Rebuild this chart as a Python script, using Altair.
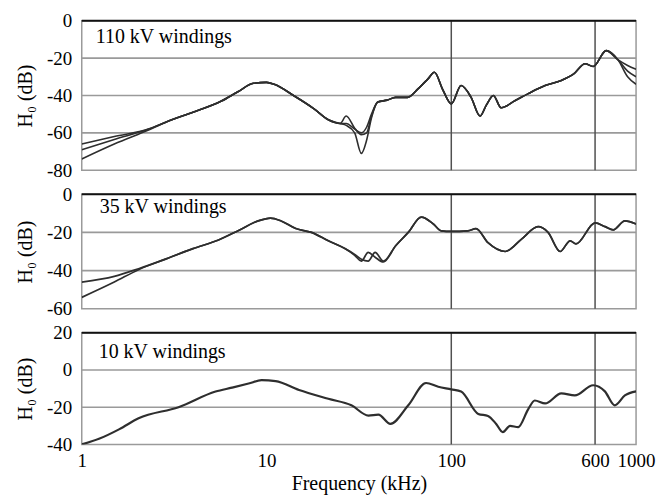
import altair as alt
import pandas as pd

FONT = "Liberation Serif"
PLOT_W = 556

X_DOMAIN = [1, 1000]
X_TICKS = [1, 10, 100, 600, 1000]
V_LINES = [100, 600]

# ---------------- 110 kV windings (three phases) ----------------
hv_low_f = [1, 1.5, 2.3]
hv_low_a = [-66, -62, -58]
hv_low_b = [-69, -63.5, -58]
hv_low_c = [-74, -66, -58.5]
hv_mid_f = [3.07, 4, 5.7, 7, 8.5, 10, 11, 14, 18, 21.6, 25]
hv_mid_db = [-53, -49, -43, -38, -33.5, -33, -34, -40, -47, -53, -55]
hv_dip_f = [27, 30, 32.6, 34.8, 37, 40]
hv_dip_a = [-51, -57.5, -61, -60, -51, -43.5]
hv_dip_b = [-55, -58, -60, -57, -50, -43.5]
hv_dip_c = [-56, -60, -71, -64, -52, -43.5]
hv_hi_f = [45, 50, 58, 66, 75, 81, 90, 100, 113, 128, 143, 155, 169, 186,
           222, 261, 322, 394, 460, 530, 586, 689, 800]
hv_hi_db = [-42.5, -41, -41, -36.5, -31, -27.6, -37, -44.5, -34.7, -41, -51,
            -45, -40, -46.6, -42.7, -39, -34.7, -32, -28.5, -23, -24.5, -16, -21]
hv_end_f = [900, 1000]
hv_end_a = [-24, -26]
hv_end_b = [-27, -30]
hv_end_c = [-30, -34]

# ---------------- 35 kV windings ----------------
mv_low_f = [1, 1.5, 2.03]
mv_low_a = [-46, -43, -39]
mv_low_b = [-54, -46, -39.5]
mv_mid_f = [2.84, 4, 5.5, 7.06, 9, 10.5, 12, 14.4, 17.5, 21.6, 26.7]
mv_mid_db = [-34, -28.5, -24, -19, -14, -12.5, -14, -18, -20, -24.4, -28.6]
mv_dip_f = [30, 32.6, 35.5, 38.7, 42.9]
mv_dip_a = [-32, -35, -30.5, -33, -35.5]
mv_dip_b = [-31.5, -34, -35, -30.5, -35]
mv_hi_f = [50, 58.5, 68.8, 80, 88.2, 100, 123, 136, 158, 196, 240, 295, 334,
           388, 440, 473, 600, 680, 752, 870, 1000]
mv_hi_db = [-27, -20, -12, -15.6, -19.2, -19.5, -19.2, -18, -25.4, -30, -23.5,
            -17, -20, -30, -24.4, -26, -15, -17, -18.7, -14, -15.6]

# ---------------- 10 kV windings ----------------
lv_f = [1, 1.24, 1.6, 2.03, 3.34, 5.3, 6.5, 8, 9.4, 11.2, 15, 21.6, 28.8, 35.6,
        40.3, 46.8, 58.5, 73, 85, 100, 113, 140, 158, 175, 190, 208, 230, 261,
        283, 322, 394, 466, 586, 678, 766, 870, 1000]
lv_db = [-40, -37, -31.8, -26, -20, -11.6, -9.5, -7.3, -5.5, -6, -10.8, -15.5,
         -19, -24.5, -24, -29, -19, -7, -9, -10.4, -11.6, -23.6, -24.7, -29,
         -33.4, -30, -30.7, -21, -16.4, -18, -12.6, -13.7, -8.2, -11.5, -19,
         -13.7, -11.5]


def frame(phases):
    rows = []
    for name, segs in phases.items():
        for fs, ds in segs:
            for f, d in zip(fs, ds):
                rows.append({"phase": name, "freq": f, "db": d})
    return pd.DataFrame(rows)


hv_df = frame({
    "A": [(hv_low_f, hv_low_a), (hv_mid_f, hv_mid_db), (hv_dip_f, hv_dip_a),
          (hv_hi_f, hv_hi_db), (hv_end_f, hv_end_a)],
    "B": [(hv_low_f, hv_low_b), (hv_mid_f, hv_mid_db), (hv_dip_f, hv_dip_b),
          (hv_hi_f, hv_hi_db), (hv_end_f, hv_end_b)],
    "C": [(hv_low_f, hv_low_c), (hv_mid_f, hv_mid_db), (hv_dip_f, hv_dip_c),
          (hv_hi_f, hv_hi_db), (hv_end_f, hv_end_c)],
})
mv_df = frame({
    "A": [(mv_low_f, mv_low_a), (mv_mid_f, mv_mid_db), (mv_dip_f, mv_dip_a),
          (mv_hi_f, mv_hi_db)],
    "B": [(mv_low_f, mv_low_b), (mv_mid_f, mv_mid_db), (mv_dip_f, mv_dip_b),
          (mv_hi_f, mv_hi_db)],
})
lv_df = frame({"A": [(lv_f, lv_db)]})


def panel(df, y_domain, y_ticks, grid_vals, label, h, lx, ly, show_x, sw):
    xs = alt.Scale(type="log", domain=X_DOMAIN, nice=False)
    ys = alt.Scale(domain=y_domain, nice=False, zero=False)
    if show_x:
        x_axis = alt.Axis(values=X_TICKS, labelExpr="'' + datum.value",
                          title="Frequency (kHz)", grid=False, ticks=False,
                          domain=False, labelFlush=False, labelOverlap=False,
                          labelPadding=7, titlePadding=3,
                          labelFont=FONT, titleFont=FONT)
    else:
        x_axis = None
    y_axis = alt.Axis(values=y_ticks, labelExpr="'' + datum.value",
                      title="H₀ (dB)", grid=False, ticks=False, domain=False,
                      labelPadding=10, labelFlush=False, labelOverlap=False,
                      titleX=-50, titleY=h / 2, titleBaseline="alphabetic",
                      labelFont=FONT, titleFont=FONT)

    grid = alt.Chart(pd.DataFrame({"v": grid_vals})).mark_rule(
        color="#9a9a9a", strokeWidth=1.6
    ).encode(y=alt.Y("v:Q", scale=ys, axis=y_axis))

    vl = alt.Chart(pd.DataFrame({"f": V_LINES})).mark_rule(
        color="#505050", strokeWidth=1.5
    ).encode(x=alt.X("f:Q", scale=xs, axis=x_axis))

    top = alt.Chart(pd.DataFrame({"v": [y_domain[1]]})).mark_rule(
        color="#111111", strokeWidth=2
    ).encode(y=alt.Y("v:Q", scale=ys, axis=y_axis))

    lines = alt.Chart(df).mark_line(
        interpolate="monotone", color="#2e2e2e", strokeWidth=sw, clip=True
    ).encode(
        x=alt.X("freq:Q", scale=xs, axis=x_axis),
        y=alt.Y("db:Q", scale=ys, axis=y_axis),
        detail="phase:N",
    )

    txt = alt.Chart(pd.DataFrame({"t": [label]})).mark_text(
        align="left", baseline="alphabetic", font=FONT, fontSize=20, color="black"
    ).encode(text="t:N", x=alt.value(lx), y=alt.value(ly))

    return alt.layer(grid, vl, top, lines, txt).properties(width=PLOT_W, height=h)


p1 = panel(hv_df, [-80, 0], [-80, -60, -40, -20, 0], [-20, -40, -60],
           "110 kV windings", 150, 14, 22, False, 1.6)
p2 = panel(mv_df, [-60, 0], [-60, -40, -20, 0], [-20, -40],
           "35 kV windings", 115, 18, 19, False, 1.7)
p3 = panel(lv_df, [-40, 20], [-40, -20, 0, 20], [0, -20],
           "10 kV windings", 112, 17, 25, True, 2.2)

chart = alt.vconcat(p1, p2, p3, spacing=24, bounds="flush").properties(
    padding={"left": 15, "top": 10, "right": 0, "bottom": 5}
).configure(
    font=FONT
).configure_view(
    stroke="#9a9a9a", strokeWidth=1.5
).configure_axis(
    labelFont=FONT, titleFont=FONT, labelFontSize=19, titleFontSize=20,
    labelColor="black", titleColor="black", titleFontWeight="normal"
)

chart.save("out.html", embed_options={"renderer": "svg", "actions": False})
